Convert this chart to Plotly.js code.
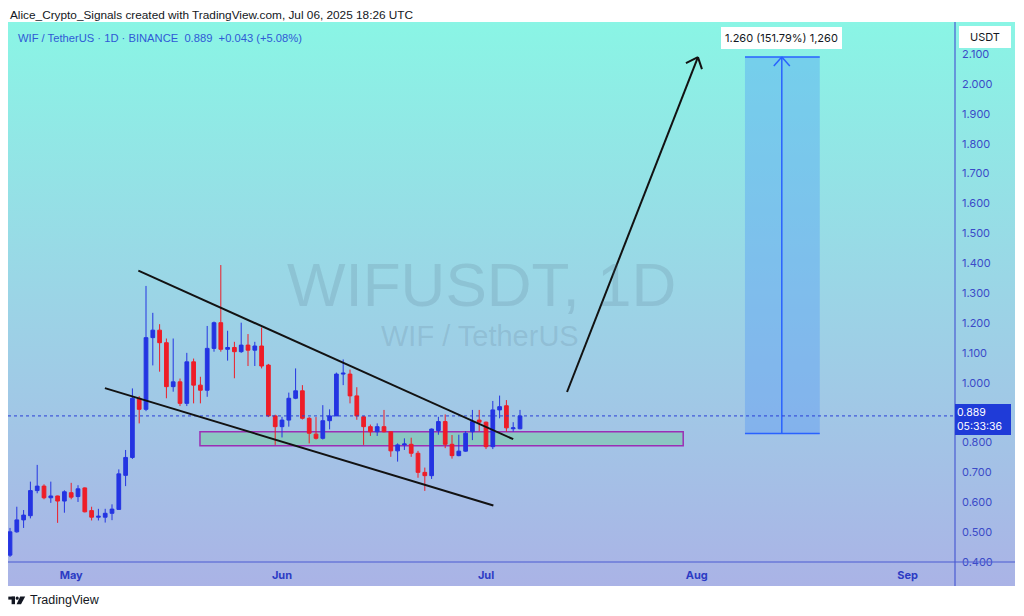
<!DOCTYPE html>
<html><head><meta charset="utf-8">
<script src="https://cdn.plot.ly/plotly-3.0.1.min.js"></script>
<style>
html,body{margin:0;padding:0;background:#fff;width:1024px;height:616px;overflow:hidden;}
#bg{position:absolute;left:8px;top:22px;width:1007px;height:564px;background:linear-gradient(to bottom,#8af5e5 0%,#9bd5e6 48%,#aab3e6 100%);}
#chart{position:absolute;left:0;top:0;width:1024px;height:616px;}
</style></head><body>
<div id="bg"></div><div id="chart"></div>
<script>
// ---- data (WIF / TetherUS, 1D, BINANCE) ----
const dates = [
 "2025-04-22","2025-04-23","2025-04-24","2025-04-25","2025-04-26","2025-04-27","2025-04-28","2025-04-29","2025-04-30",
 "2025-05-01","2025-05-02","2025-05-03","2025-05-04","2025-05-05","2025-05-06","2025-05-07","2025-05-08","2025-05-09","2025-05-10",
 "2025-05-11","2025-05-12","2025-05-13","2025-05-14","2025-05-15","2025-05-16","2025-05-17","2025-05-18","2025-05-19","2025-05-20",
 "2025-05-21","2025-05-22","2025-05-23","2025-05-24","2025-05-25","2025-05-26","2025-05-27","2025-05-28","2025-05-29","2025-05-30","2025-05-31",
 "2025-06-01","2025-06-02","2025-06-03","2025-06-04","2025-06-05","2025-06-06","2025-06-07","2025-06-08","2025-06-09","2025-06-10",
 "2025-06-11","2025-06-12","2025-06-13","2025-06-14","2025-06-15","2025-06-16","2025-06-17","2025-06-18","2025-06-19","2025-06-20",
 "2025-06-21","2025-06-22","2025-06-23","2025-06-24","2025-06-25","2025-06-26","2025-06-27","2025-06-28","2025-06-29","2025-06-30",
 "2025-07-01","2025-07-02","2025-07-03","2025-07-04","2025-07-05","2025-07-06"
];
const opens = [
 0.423,0.501,0.541,0.555,0.639,0.654,0.615,0.621,0.604,
 0.632,0.619,0.648,0.572,0.550,0.550,0.563,0.576,0.690,0.750,
 0.948,0.911,1.151,1.176,1.134,0.987,1.003,0.931,1.070,0.992,
 0.975,1.115,1.201,1.112,1.118,1.104,1.126,1.109,1.123,1.059,0.889,
 0.853,0.875,0.948,0.973,0.881,0.828,0.814,0.873,0.889,1.029,
 1.029,0.956,0.886,0.853,0.836,0.853,0.836,0.772,0.792,0.794,
 0.764,0.700,0.689,0.840,0.870,0.794,0.756,0.771,0.836,0.875,
 0.868,0.786,0.909,0.923,0.846,0.846
];
const highs = [
 0.514,0.585,0.574,0.669,0.725,0.660,0.669,0.622,0.640,
 0.665,0.657,0.650,0.585,0.578,0.578,0.593,0.710,0.775,0.981,
 0.955,1.324,1.234,1.196,1.148,1.148,1.014,1.100,1.081,1.020,
 1.190,1.205,1.394,1.174,1.137,1.201,1.163,1.137,1.185,1.063,0.893,
 0.886,0.967,1.048,0.992,0.885,0.885,0.925,0.911,1.034,1.078,
 1.044,0.985,0.889,0.860,0.864,0.909,0.838,0.797,0.814,0.816,
 0.772,0.716,0.847,0.886,0.894,0.825,0.826,0.838,0.909,0.909,
 0.870,0.939,0.957,0.942,0.868,0.909
];
const lows = [
 0.417,0.498,0.514,0.546,0.630,0.610,0.598,0.531,0.565,
 0.610,0.601,0.566,0.539,0.539,0.532,0.540,0.576,0.654,0.745,
 0.864,0.905,1.058,1.037,0.948,0.970,0.922,0.922,0.931,0.931,
 0.953,1.104,1.104,1.074,1.015,1.100,1.056,1.056,1.048,0.885,0.792,
 0.817,0.853,0.945,0.877,0.797,0.810,0.810,0.844,0.889,0.992,
 0.931,0.876,0.792,0.822,0.822,0.834,0.752,0.736,0.775,0.752,
 0.682,0.638,0.678,0.826,0.781,0.746,0.754,0.769,0.808,0.838,
 0.778,0.778,0.881,0.836,0.836,0.844
];
const closes = [
 0.501,0.541,0.557,0.639,0.654,0.615,0.621,0.604,0.635,
 0.617,0.645,0.568,0.550,0.553,0.563,0.577,0.695,0.750,0.948,
 0.911,1.151,1.176,1.134,0.987,1.003,0.931,1.070,0.992,0.975,
 1.115,1.201,1.112,1.118,1.104,1.126,1.109,1.123,1.056,0.889,0.853,
 0.875,0.948,0.973,0.881,0.831,0.814,0.873,0.889,1.029,1.032,
 0.956,0.889,0.853,0.836,0.853,0.836,0.772,0.792,0.795,0.764,
 0.700,0.689,0.845,0.870,0.794,0.756,0.771,0.831,0.870,0.868,
 0.786,0.909,0.920,0.849,0.849,0.889
];
const monthTicks = ["2025-05-01","2025-06-01","2025-07-01","2025-08-01","2025-09-01"];
const monthLabels = ["May","Jun","Jul","Aug","Sep"];
// 0.900 is hidden behind the last-price label in the reference
const priceTicks = [0.4,0.5,0.6,0.7,0.8,1.0,1.1,1.2,1.3,1.4,1.5,1.6,1.7,1.8,1.9,2.0,2.1];

// ---- drawings (user annotations, in date/price coordinates) ----
const upperLine = {x:["2025-05-10 21:00","2025-07-05 00:00"], y:[1.375,0.811]};
const lowerLine = {x:["2025-05-05 23:00","2025-07-02 02:00"], y:[0.982,0.589]};
const zone = {x:["2025-05-19 22:30","2025-07-30 00:00"], y:[0.789,0.836]};
const bigArrow = {x:["2025-07-12 22:00","2025-08-01 04:00"], y:[0.969,2.090]};
const target = {x:["2025-08-08 02:00","2025-08-19 02:00"], mid:"2025-08-13 12:00", y:[0.830,2.090]};

const up = '#2434e2', dn = '#ee1d27';
const axisBlue = '#3b4bc8';
const last = closes[closes.length-1];
const PW = 947, PH = 540; // plot area in px
const px = v => (v-8)/PW, py = v => (562-v)/PH;

const trace = {
  type:'candlestick', x:dates, open:opens, high:highs, low:lows, close:closes,
  increasing:{line:{color:up,width:1}, fillcolor:up},
  decreasing:{line:{color:dn,width:1}, fillcolor:dn},
  whiskerwidth:0, hoverinfo:'skip', showlegend:false
};

const shapes = [
  {type:'rect', layer:'below', xref:'x', yref:'y', x0:zone.x[0], x1:zone.x[1], y0:zone.y[0], y1:zone.y[1],
   fillcolor:'rgba(110,205,150,0.45)', line:{color:'#9b2fb5', width:1.5}},
  {type:'rect', layer:'below', xref:'x', yref:'y', x0:target.x[0], x1:target.x[1], y0:target.y[0], y1:target.y[1],
   fillcolor:'rgba(70,140,250,0.33)', line:{width:0}},
  {type:'line', xref:'x', yref:'y', x0:target.x[0], x1:target.x[1], y0:target.y[1], y1:target.y[1], line:{color:'#2962ff', width:1.5}},
  {type:'line', xref:'x', yref:'y', x0:target.x[0], x1:target.x[1], y0:target.y[0], y1:target.y[0], line:{color:'#2962ff', width:1.5}},
  {type:'line', xref:'x', yref:'y', x0:target.mid, x1:target.mid, y0:target.y[0], y1:target.y[1], line:{color:'#2962ff', width:1.5}},
  {type:'line', xref:'x', yref:'y', xsizemode:'pixel', ysizemode:'pixel', xanchor:target.mid, yanchor:target.y[1],
   x0:0, y0:0, x1:-8, y1:-9, line:{color:'#2962ff', width:1.5}},
  {type:'line', xref:'x', yref:'y', xsizemode:'pixel', ysizemode:'pixel', xanchor:target.mid, yanchor:target.y[1],
   x0:0, y0:0, x1:8, y1:-9, line:{color:'#2962ff', width:1.5}},
  {type:'line', xref:'paper', yref:'y', x0:0, x1:1, y0:last, y1:last, line:{color:'#2a3fd6', width:1, dash:'dot'}},
  {type:'line', xref:'x', yref:'y', x0:upperLine.x[0], x1:upperLine.x[1], y0:upperLine.y[0], y1:upperLine.y[1], line:{color:'#121212', width:2}},
  {type:'line', xref:'x', yref:'y', x0:lowerLine.x[0], x1:lowerLine.x[1], y0:lowerLine.y[0], y1:lowerLine.y[1], line:{color:'#121212', width:2}},
  {type:'line', xref:'x', yref:'y', x0:bigArrow.x[0], x1:bigArrow.x[1], y0:bigArrow.y[0], y1:bigArrow.y[1], line:{color:'#121212', width:2}},
  {type:'line', xref:'x', yref:'y', xsizemode:'pixel', ysizemode:'pixel', xanchor:bigArrow.x[1], yanchor:bigArrow.y[1],
   x0:0, y0:0, x1:-12, y1:-6, line:{color:'#121212', width:2}},
  {type:'line', xref:'x', yref:'y', xsizemode:'pixel', ysizemode:'pixel', xanchor:bigArrow.x[1], yanchor:bigArrow.y[1],
   x0:0, y0:0, x1:4, y1:-12, line:{color:'#121212', width:2}},
  {type:'line', xref:'paper', yref:'paper', x0:1, x1:1, y0:py(586), y1:1, line:{color:'#4a5bd2', width:1.2}},
  {type:'line', xref:'paper', yref:'paper', x0:0, x1:px(1015), y0:0, y1:0, line:{color:'#4a5bd2', width:1.2}},
  {type:'rect', xref:'paper', yref:'paper', x0:px(8.3), x1:px(15), y0:py(599.6), y1:py(596.6), fillcolor:'#131722', line:{width:0}},
  {type:'rect', xref:'paper', yref:'paper', x0:px(11.6), x1:px(15), y0:py(604.2), y1:py(596.6), fillcolor:'#131722', line:{width:0}},
  {type:'circle', xref:'paper', yref:'paper', x0:px(15.6), x1:px(18.8), y0:py(599.8), y1:py(596.6), fillcolor:'#131722', line:{width:0}},
  {type:'path', xref:'paper', yref:'paper',
   path:`M${px(20.2)},${py(596.6)} L${px(25.2)},${py(596.6)} L${px(21)},${py(604.2)} L${px(16.6)},${py(604.2)} Z`,
   fillcolor:'#131722', line:{width:0}}
];

const uiFont = 'Inter, "Liberation Sans", Arial, sans-serif';
const hdFont = '"Liberation Sans", Arial, sans-serif';
const annotations = [
  {xref:'paper', yref:'paper', x:px(8), y:py(15), xanchor:'left', yanchor:'middle', showarrow:false,
   text:'Alice_Crypto_Signals created with TradingView.com, Jul 06, 2025 18:26 UTC', font:{family:hdFont, size:11.8, color:'#131722'}},
  {xref:'paper', yref:'paper', x:px(16), y:py(38), xanchor:'left', yanchor:'middle', showarrow:false,
   text:'WIF / TetherUS · 1D · BINANCE  0.889  +0.043 (+5.08%)', font:{family:hdFont, size:11.2, color:'#2f5ad6'}},
  {xref:'paper', yref:'paper', x:px(481), y:py(284), xanchor:'center', yanchor:'middle', showarrow:false,
   text:'WIFUSDT, 1D', font:{family:hdFont, size:62, color:'rgba(80,100,125,0.17)'}},
  {xref:'paper', yref:'paper', x:px(480), y:py(336), xanchor:'center', yanchor:'middle', showarrow:false,
   text:'WIF / TetherUS', font:{family:hdFont, size:29, color:'rgba(80,100,125,0.17)'}},
  {xref:'paper', yref:'paper', x:px(985), y:py(37), xanchor:'center', yanchor:'middle', showarrow:false,
   text:'USDT', font:{family:uiFont, size:11, color:'#131722'}, bgcolor:'#ffffff', bordercolor:'#ffffff', width:46, height:16, borderpad:2},
  {xref:'paper', yref:'y', x:1, y:last, yshift:-4, xanchor:'left', yanchor:'middle', showarrow:false, align:'left',
   text:'0.889<br>05:33:36', font:{family:uiFont, size:10.5, color:'#ffffff'}, bgcolor:'#1f3bd8', bordercolor:'#1f3bd8', width:52, borderpad:1},
  {xref:'x', yref:'y', x:target.mid, y:2.154, xanchor:'center', yanchor:'middle', showarrow:false,
   text:'1.260 (151.79%) 1,260', font:{family:uiFont, size:11, color:'#131722'}, bgcolor:'#ffffff', bordercolor:'#ffffff', borderpad:3},
  {xref:'paper', yref:'paper', x:px(28), y:py(600), xanchor:'left', yanchor:'middle', showarrow:false,
   text:'TradingView', font:{family:hdFont, size:12.5, color:'#131722'}}
];

const layout = {
  width:1024, height:616,
  margin:{l:8, r:69, t:22, b:54, pad:0},
  paper_bgcolor:'rgba(0,0,0,0)', plot_bgcolor:'rgba(0,0,0,0)',
  showlegend:false, boxgap:0.22,
  xaxis:{type:'date', range:['2025-04-21 16:56','2025-09-07 23:17'], rangeslider:{visible:false},
    tickvals:monthTicks, ticktext:monthLabels, showgrid:false, zeroline:false, showline:false, ticks:'',
    ticklabelstandoff:5, tickfont:{family:uiFont, size:11, color:'#2d3cc4', weight:'bold'}, fixedrange:true},
  yaxis:{side:'right', range:[0.4,2.2075], tickvals:priceTicks, ticktext:priceTicks.map(v=>v.toFixed(3)),
    showgrid:false, zeroline:false, showline:false, ticks:'', ticklabelstandoff:6,
    tickfont:{family:uiFont, size:11, color:axisBlue}, fixedrange:true},
  shapes:shapes, annotations:annotations
};

Plotly.newPlot('chart', [trace], layout, {displayModeBar:false, staticPlot:true});
</script>
</body></html>
